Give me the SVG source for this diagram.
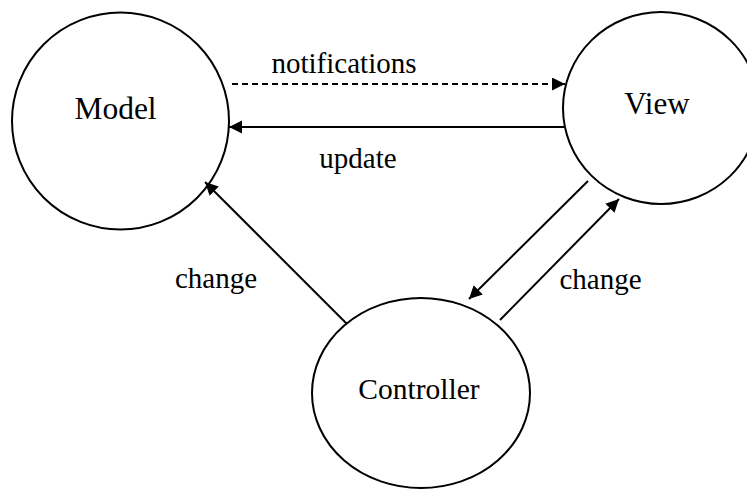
<svg xmlns="http://www.w3.org/2000/svg" width="747" height="489" viewBox="0 0 747 489">
<style>
.node{fill:#fff;stroke:#000;stroke-width:2}
.lbl{font-family:"Liberation Serif","Times New Roman",serif;fill:#000;text-anchor:middle}
.edge{fill:none;stroke:#000;stroke-width:2}
.dash{stroke-dasharray:6,4}
</style>
<defs>
<marker id="arr" markerUnits="userSpaceOnUse" markerWidth="14" markerHeight="14" refX="13" refY="6.5" orient="auto">
<path d="M0,0 L13,6.5 L0,13 z" fill="#000"/>
</marker>
</defs>
<g id="model"><circle class="node" cx="120.5" cy="121" r="108.5"/><text class="lbl" x="115.5" y="119" font-size="31.5">Model</text></g>
<g id="view"><ellipse class="node" cx="661" cy="108" rx="98" ry="96"/><text class="lbl" x="657" y="114" font-size="31">View</text></g>
<g id="controller"><ellipse class="node" cx="421" cy="393" rx="109" ry="95"/><text class="lbl" x="419" y="399" font-size="29.5">Controller</text></g>
<g id="connectors">
<line class="edge dash" x1="232" y1="84" x2="565" y2="84" marker-end="url(#arr)"/>
<line class="edge" x1="564" y1="127" x2="229" y2="127" marker-end="url(#arr)"/>
<line class="edge" x1="347" y1="324" x2="205" y2="182" marker-end="url(#arr)"/>
<line class="edge" x1="588" y1="181" x2="469" y2="299" marker-end="url(#arr)"/>
<line class="edge" x1="500" y1="320" x2="619" y2="199" marker-end="url(#arr)"/>
<text class="lbl" x="344" y="73" font-size="29">notifications</text>
<text class="lbl" x="358" y="168" font-size="29">update</text>
<text class="lbl" x="216" y="288" font-size="29">change</text>
<text class="lbl" x="600.5" y="289" font-size="29">change</text>
</g>
</svg>
